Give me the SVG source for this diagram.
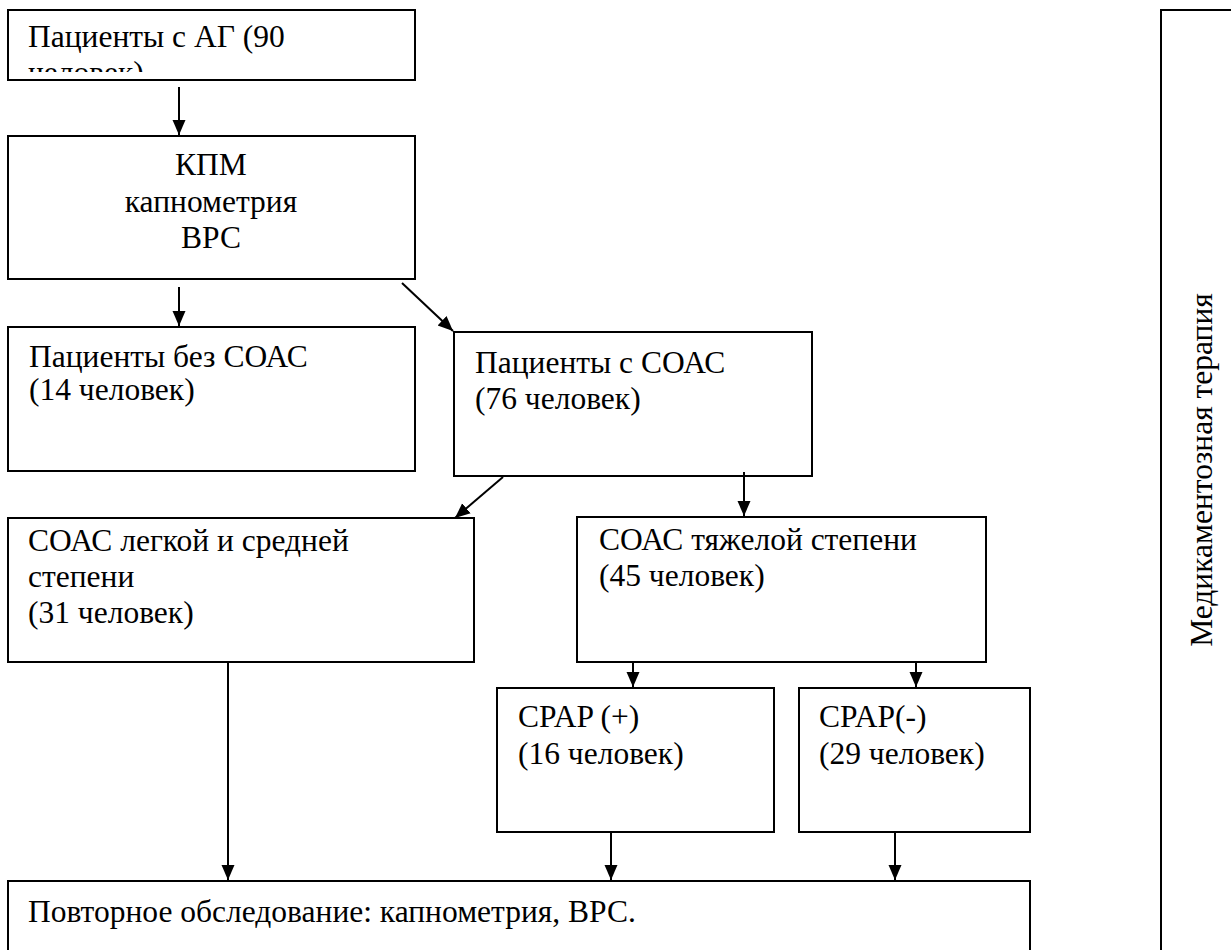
<svg xmlns="http://www.w3.org/2000/svg" width="1231" height="950" viewBox="0 0 1231 950">
<style>
.box{fill:#fff;stroke:#000;stroke-width:2}
.t{font-family:"Liberation Serif","Times New Roman",serif;font-size:31.5px;fill:#000}
.c{stroke:#000;stroke-width:2;fill:none;marker-end:url(#ah)}
</style>
<defs>
<marker id="ah" markerUnits="userSpaceOnUse" markerWidth="15" markerHeight="15" viewBox="0 0 15 15" refX="15" refY="7.5" orient="auto">
<path d="M0,1 L15,7.5 L0,14 Z" fill="#000"/>
</marker>
<clipPath id="clip1"><rect x="9" y="11" width="405" height="61"/></clipPath>
</defs>
<rect width="1231" height="950" fill="#fff"/>
<g id="n1">
<rect class="box" x="8" y="10" width="407" height="70"/>
<g clip-path="url(#clip1)">
<text class="t" x="28" y="47">Пациенты с АГ (90</text>
<text class="t" x="28" y="83">человек)</text>
</g>
</g>
<g id="n2">
<rect class="box" x="8" y="136" width="407" height="143"/>
<text class="t" x="211" y="175" text-anchor="middle">КПМ</text>
<text class="t" x="211" y="212" text-anchor="middle">капнометрия</text>
<text class="t" x="211" y="248" text-anchor="middle">ВРС</text>
</g>
<g id="n3">
<rect class="box" x="8" y="327" width="407" height="144"/>
<text class="t" x="29" y="367">Пациенты без СОАС</text>
<text class="t" x="29" y="400">(14 человек)</text>
</g>
<g id="n4">
<rect class="box" x="454" y="332" width="358" height="144"/>
<text class="t" x="475" y="373">Пациенты с СОАС</text>
<text class="t" x="475" y="409">(76 человек)</text>
</g>
<g id="n5">
<rect class="box" x="8" y="518" width="466" height="144"/>
<text class="t" x="28" y="551">СОАС легкой и средней</text>
<text class="t" x="28" y="587">степени</text>
<text class="t" x="28" y="623">(31 человек)</text>
</g>
<g id="n6">
<rect class="box" x="577" y="517" width="409" height="145"/>
<text class="t" x="599" y="550">СОАС тяжелой степени</text>
<text class="t" x="599" y="586">(45 человек)</text>
</g>
<g id="n7">
<rect class="box" x="497" y="688" width="277" height="144"/>
<text class="t" x="518" y="727">CPAP (+)</text>
<text class="t" x="518" y="764">(16 человек)</text>
</g>
<g id="n8">
<rect class="box" x="799" y="688" width="231" height="144"/>
<text class="t" x="819" y="727">CPAP(-)</text>
<text class="t" x="819" y="764">(29 человек)</text>
</g>
<g id="n9">
<rect class="box" x="8" y="881" width="1022" height="100"/>
<text class="t" x="28" y="922">Повторное обследование: капнометрия, ВРС.</text>
</g>
<g id="n10">
<rect class="box" x="1161" y="10" width="100" height="1000"/>
<text class="t" transform="translate(1212,470) rotate(-90)" text-anchor="middle">Медикаментозная терапия</text>
</g>
<g id="connectors">
<line class="c" x1="179" y1="87" x2="179" y2="135"/>
<line class="c" x1="179" y1="287" x2="179" y2="326"/>
<line class="c" x1="402" y1="283" x2="453" y2="331"/>
<line class="c" x1="503" y1="477" x2="455" y2="518"/>
<line class="c" x1="744" y1="472" x2="744" y2="516"/>
<line class="c" x1="228" y1="662" x2="228" y2="880"/>
<line class="c" x1="633" y1="662" x2="633" y2="687"/>
<line class="c" x1="916" y1="662" x2="916" y2="687"/>
<line class="c" x1="611" y1="832" x2="611" y2="880"/>
<line class="c" x1="895" y1="832" x2="895" y2="880"/>
</g>
</svg>
